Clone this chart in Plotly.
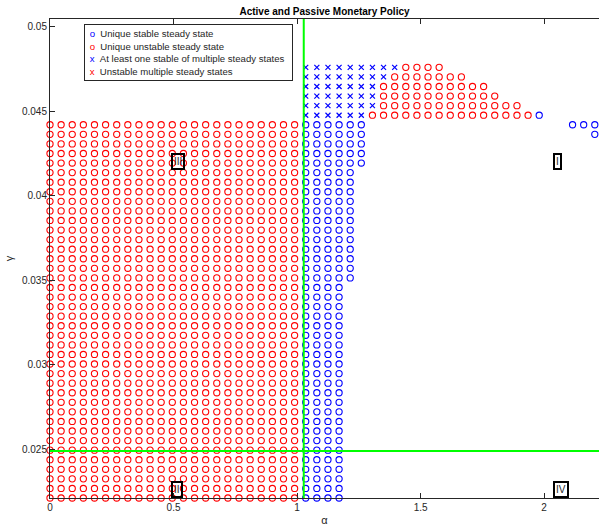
import plotly.graph_objects as go

# ---- data ----
ALPHA = [0.0, 0.045, 0.09, 0.135, 0.18, 0.225, 0.27, 0.315, 0.36, 0.405,
         0.45, 0.495, 0.54, 0.585, 0.63, 0.675, 0.72, 0.765, 0.81, 0.855,
         0.9, 0.945, 0.99, 1.035, 1.08, 1.125, 1.17, 1.215, 1.26, 1.305,
         1.35, 1.395, 1.44, 1.485, 1.53, 1.575, 1.62, 1.665, 1.71, 1.755,
         1.8, 1.845, 1.89, 1.935, 1.98, 2.025, 2.07, 2.115, 2.16, 2.205]

GAMMA = [0.022120, 0.022686, 0.023252, 0.023819, 0.024385, 0.024951,
         0.025517, 0.026083, 0.026650, 0.027216, 0.027782, 0.028348,
         0.028914, 0.029481, 0.030047, 0.030613, 0.031179, 0.031745,
         0.032312, 0.032878, 0.033444, 0.034010, 0.034576, 0.035143,
         0.035709, 0.036275, 0.036841, 0.037407, 0.037974, 0.038540,
         0.039106, 0.039672, 0.040238, 0.040805, 0.041371, 0.041937,
         0.042503, 0.043069, 0.043636, 0.044202, 0.044768, 0.045334,
         0.045900, 0.046467, 0.047033, 0.047599]

# (first gamma row, last gamma row, state, first alpha col, last alpha col)
STATE_BLOCKS = [
    (0, 39, "r", 0, 22),
    (0, 22, "b", 23, 26),
    (23, 34, "b", 23, 27),
    (35, 39, "b", 23, 28),
    (38, 38, "b", 49, 49),
    (39, 39, "b", 47, 49),
    (40, 40, "X", 23, 28), (40, 40, "r", 29, 43), (40, 40, "b", 44, 44),
    (41, 43, "X", 23, 29),
    (41, 41, "r", 30, 42),
    (42, 42, "r", 30, 40),
    (43, 43, "r", 30, 39),
    (44, 44, "X", 23, 30), (44, 44, "r", 31, 37),
    (45, 45, "X", 23, 31), (45, 45, "r", 32, 35),
]

STATE_CODES = ["b", "r", "X", "x"]
STATE_NAMES = ["Unique stable steady state",
               "Unique unstable steady state",
               "At least one stable of multiple steady states",
               "Unstable multiple steady states"]
STATE_COLORS = ["#0000ff", "#ff0000", "#0000ff", "#ff0000"]
STATE_GLYPHS = ["o", "o", "x", "x"]

ALPHA_BOUNDARY = 1.027
GAMMA_BOUNDARY = 0.0249

REGION_LABELS = ["I", "II", "III", "IV"]
REGION_ALPHA = [2.037, 0.491, 0.491, 2.037]
REGION_GAMMA = [0.0420, 0.02265, 0.0420, 0.02265]

X_TICKS = [0, 0.5, 1, 1.5, 2]
X_TICK_TEXT = ["0", "0.5", "1", "1.5", "2"]
Y_TICKS = [0.025, 0.03, 0.035, 0.04, 0.045, 0.05]
Y_TICK_TEXT = ["0.025", "0.03", "0.035", "0.04", "0.045", "0.05"]

TITLE = "Active and Passive Monetary Policy"
X_LABEL = "α"
Y_LABEL = "γ"

# ---- build figure ----
FONT = "Liberation Sans, Arial, Helvetica, sans-serif"
AXC = "#262626"

points = {c: ([], []) for c in STATE_CODES}
for r0, r1, code, c0, c1 in STATE_BLOCKS:
    for r in range(r0, r1 + 1):
        for c in range(c0, c1 + 1):
            points[code][0].append(ALPHA[c])
            points[code][1].append(GAMMA[r])

fig = go.Figure()
for code, name, color in zip(STATE_CODES, STATE_NAMES, STATE_COLORS):
    xs, ys = points[code]
    if code in ("b", "r"):
        marker = dict(symbol="circle-open", size=6.2, color=color,
                      line=dict(width=1.1, color=color))
    else:
        marker = dict(symbol="x-thin-open", size=5, color=color,
                      line=dict(width=1.2, color=color))
    fig.add_trace(go.Scatter(x=xs, y=ys, mode="markers", name=name,
                             marker=marker, cliponaxis=False,
                             showlegend=False))

fig.add_vline(x=ALPHA_BOUNDARY, line=dict(color="#00ff00", width=2), layer="above")
fig.add_hline(y=GAMMA_BOUNDARY, line=dict(color="#00ff00", width=2), layer="above")

for lab, ax, gy in zip(REGION_LABELS, REGION_ALPHA, REGION_GAMMA):
    fig.add_annotation(x=ax, y=gy, xref="x", yref="y", text=lab,
                       showarrow=False, xanchor="left", yanchor="middle",
                       font=dict(family=FONT, size=10, color="#262626"),
                       bordercolor="#000000", borderwidth=2, borderpad=1,
                       bgcolor="rgba(0,0,0,0)")

# legend box (text-based, mimicking the MATLAB legend)
NB = "\u00a0"
legend_lines = []
for name, color, glyph in zip(STATE_NAMES, STATE_COLORS, STATE_GLYPHS):
    legend_lines.append(f"{NB}<span style='color:{color}'>{glyph}</span>{NB}{NB}{name}")
fig.add_annotation(x=(84 - 50) / 549, y=(498 - 24) / 479, xref="paper", yref="paper",
                   xanchor="left", yanchor="top", showarrow=False, align="left",
                   text="<br>".join(legend_lines), width=203, height=51,
                   font=dict(family=FONT, size=9.6, color="#262626"),
                   bordercolor="#262626", borderwidth=1, borderpad=2,
                   bgcolor="#ffffff")

fig.update_layout(
    width=599, height=529,
    margin=dict(l=50, r=0, t=19, b=31),
    paper_bgcolor="#ffffff", plot_bgcolor="#ffffff",
    font=dict(family=FONT, size=10, color=AXC),
    title=dict(text=TITLE, x=(50 + 549 / 2) / 599, xref="container", xanchor="center",
               y=1 - 11 / 529, yref="container", yanchor="middle",
               font=dict(family=FONT, size=10, color="#000000", weight="bold")),
    showlegend=False,
)
fig.update_xaxes(range=[0, 2.222], tickmode="array", tickvals=X_TICKS,
                 ticktext=X_TICK_TEXT, ticks="inside", ticklen=5, tickwidth=1,
                 tickcolor=AXC, showline=True, linecolor=AXC, linewidth=1,
                 mirror="ticks", showgrid=False, zeroline=False,
                 tickfont=dict(family=FONT, size=10, color=AXC),
                 title=dict(text=X_LABEL, standoff=4,
                            font=dict(family=FONT, size=11, color=AXC)))
fig.update_yaxes(range=[0.02212, 0.05046], tickmode="array", tickvals=Y_TICKS,
                 ticktext=Y_TICK_TEXT, ticks="inside", ticklen=5, tickwidth=1,
                 tickcolor=AXC, showline=True, linecolor=AXC, linewidth=1,
                 mirror=False, showgrid=False, zeroline=False,
                 tickfont=dict(family=FONT, size=10, color=AXC),
                 title=dict(text=Y_LABEL, standoff=6,
                            font=dict(family=FONT, size=11, color=AXC)))

fig.write_html("out.html")
